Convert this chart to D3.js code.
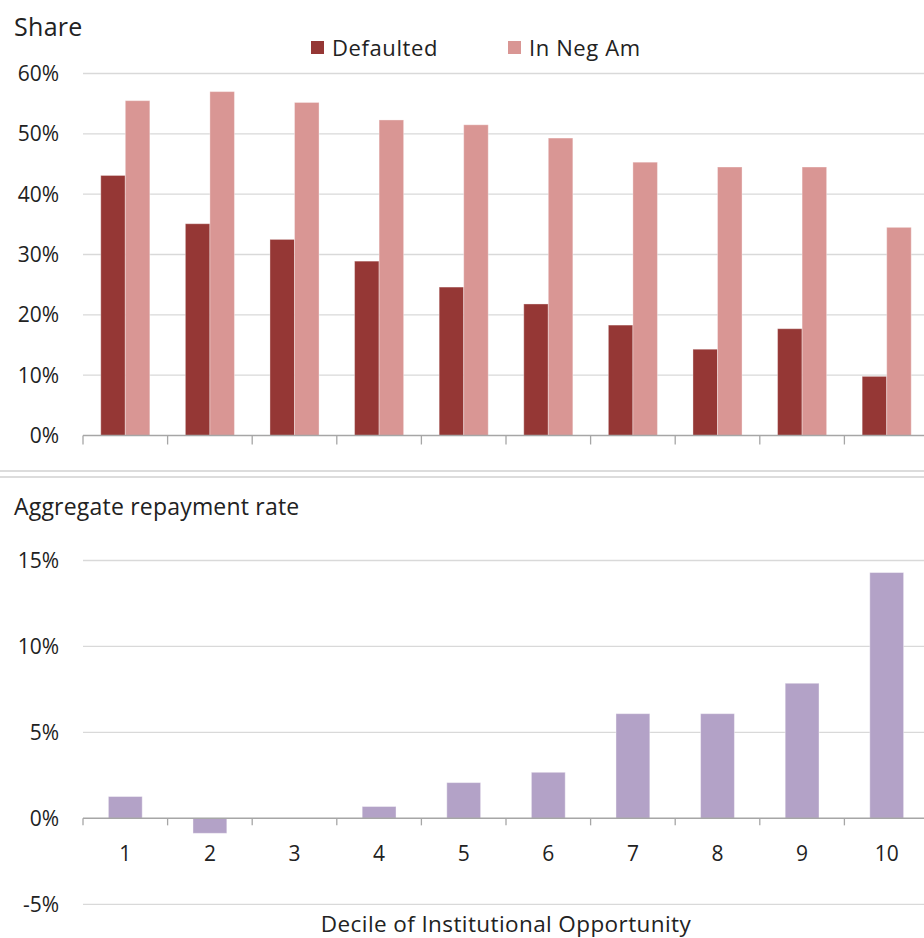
<!DOCTYPE html>
<html>
<head>
<meta charset="utf-8">
<script src="https://cdn.jsdelivr.net/npm/d3@7"></script>
<style>
body { margin: 0; background: #fff; }
text { font-family: "Open Sans", sans-serif; fill: #222; }
</style>
</head>
<body>
<script>
// deciles of institutional opportunity
const deciles = [1, 2, 3, 4, 5, 6, 7, 8, 9, 10]
const seriesNames = ["Defaulted", "In Neg Am"]
const defaulted = [0.431, 0.351, 0.325, 0.289, 0.246, 0.218, 0.183, 0.143, 0.177, 0.098]
const negAm = [0.555, 0.570, 0.552, 0.523, 0.515, 0.493, 0.453, 0.445, 0.445, 0.345]
const repayment = [0.0127, -0.0087, 0, 0.0069, 0.0208, 0.0268, 0.0609, 0.0609, 0.0786, 0.143]
const shareTicks = [0, 0.1, 0.2, 0.3, 0.4, 0.5, 0.6]
const repayTicks = [-0.05, 0, 0.05, 0.10, 0.15]

const colors = { "Defaulted": "#953735", "In Neg Am": "#d99694" }
const purple = "#b3a2c7"

const w = 924, h = 938
const left = 83, right = 929

// plain hyphen for negatives, like the original
const pct = d => d3.format(".0%")(d).replace("\u2212", "-")

const svg = d3.select("body").append("svg")
  .attr("width", w)
  .attr("height", h)

// ---------- top panel: share ----------
const x0 = d3.scaleBand()
  .domain(deciles)
  .range([left, right])
  .paddingInner(0.42)
  .paddingOuter(0.21)

const x1 = d3.scaleBand()
  .domain(seriesNames)
  .range([0, x0.bandwidth()])

const y1 = d3.scaleLinear()
  .domain([0, 0.6])
  .range([435.5, 73.5])

const sharePanel = svg.append("g")

sharePanel.append("g")
  .selectAll("line")
  .data(shareTicks.filter(d => d > 0))
  .enter()
  .append("line")
  .attr("x1", left).attr("x2", w)
  .attr("y1", d => y1(d)).attr("y2", d => y1(d))
  .attr("stroke", "#d9d9d9")
  .attr("stroke-width", 1.3)

sharePanel.append("g")
  .selectAll("text")
  .data(shareTicks)
  .enter()
  .append("text")
  .attr("x", 59)
  .attr("y", d => y1(d))
  .attr("dy", "0.35em")
  .attr("text-anchor", "end")
  .style("font-size", "21px")
  .text(pct)

const rows = deciles.map((d, i) => ({ decile: d, "Defaulted": defaulted[i], "In Neg Am": negAm[i] }))

sharePanel.append("g")
  .selectAll("g")
  .data(rows)
  .enter()
  .append("g")
  .attr("transform", d => "translate(" + x0(d.decile) + ",0)")
  .selectAll("rect")
  .data(d => seriesNames.map(k => ({ key: k, value: d[k] })))
  .enter()
  .append("rect")
  .attr("x", d => x1(d.key))
  .attr("y", d => y1(d.value))
  .attr("width", x1.bandwidth())
  .attr("height", d => y1(0) - y1(d.value))
  .attr("fill", d => colors[d.key])
  .attr("stroke", "rgba(255,255,255,0.35)")
  .attr("stroke-width", 1)

// axis line and ticks between categories
const bounds = d3.range(deciles.length + 1).map(i => left + i * x0.step())
sharePanel.append("line")
  .attr("x1", left).attr("x2", w)
  .attr("y1", y1(0)).attr("y2", y1(0))
  .attr("stroke", "#a6a6a6").attr("stroke-width", 1.5)
sharePanel.append("g")
  .selectAll("line")
  .data(bounds)
  .enter()
  .append("line")
  .attr("x1", d => d).attr("x2", d => d)
  .attr("y1", y1(0)).attr("y2", y1(0) + 9)
  .attr("stroke", "#a6a6a6").attr("stroke-width", 1.3)

sharePanel.append("text")
  .attr("x", 14).attr("y", 36)
  .style("font-size", "25px")
  .style("letter-spacing", "0.3px")
  .text("Share")

// legend
const legendX = [311, 508]
const legend = sharePanel.append("g")
  .selectAll("g")
  .data(seriesNames)
  .enter()
  .append("g")
  .attr("transform", (d, i) => "translate(" + legendX[i] + ",41)")
legend.append("rect")
  .attr("width", 13).attr("height", 13)
  .attr("fill", d => colors[d])
legend.append("text")
  .attr("x", 21).attr("y", 14.5)
  .style("font-size", "22px")
  .style("letter-spacing", "0.6px")
  .text(d => d)

// separators between the two charts
svg.append("line")
  .attr("x1", 0).attr("x2", w).attr("y1", 471).attr("y2", 471)
  .attr("stroke", "#d0d0d0").attr("stroke-width", 1.3)
svg.append("line")
  .attr("x1", 0).attr("x2", w).attr("y1", 477).attr("y2", 477)
  .attr("stroke", "#d0d0d0").attr("stroke-width", 1.3)

// ---------- bottom panel: repayment rate ----------
const xb = d3.scaleBand()
  .domain(deciles)
  .range([left, right])
  .paddingInner(0.6)
  .paddingOuter(0.3)

const y2 = d3.scaleLinear()
  .domain([-0.05, 0.15])
  .range([904.3, 560.5])

const repayPanel = svg.append("g")

repayPanel.append("g")
  .selectAll("line")
  .data(repayTicks.filter(d => d !== 0))
  .enter()
  .append("line")
  .attr("x1", left).attr("x2", w)
  .attr("y1", d => y2(d)).attr("y2", d => y2(d))
  .attr("stroke", "#d9d9d9")
  .attr("stroke-width", 1.3)

repayPanel.append("g")
  .selectAll("text")
  .data(repayTicks)
  .enter()
  .append("text")
  .attr("x", 59)
  .attr("y", d => y2(d))
  .attr("dy", "0.35em")
  .attr("text-anchor", "end")
  .style("font-size", "21px")
  .text(pct)

repayPanel.append("g")
  .selectAll("rect")
  .data(deciles.map((d, i) => ({ decile: d, value: repayment[i] })).filter(d => d.value !== 0))
  .enter()
  .append("rect")
  .attr("x", d => xb(d.decile))
  .attr("y", d => y2(Math.max(0, d.value)))
  .attr("width", xb.bandwidth())
  .attr("height", d => Math.abs(y2(d.value) - y2(0)))
  .attr("fill", purple)
  .attr("stroke", "rgba(255,255,255,0.4)")
  .attr("stroke-width", 1)

repayPanel.append("line")
  .attr("x1", left).attr("x2", w)
  .attr("y1", y2(0)).attr("y2", y2(0))
  .attr("stroke", "#a6a6a6").attr("stroke-width", 1.5)
repayPanel.append("g")
  .selectAll("line")
  .data(bounds)
  .enter()
  .append("line")
  .attr("x1", d => d).attr("x2", d => d)
  .attr("y1", y2(0)).attr("y2", y2(0) + 7)
  .attr("stroke", "#a6a6a6").attr("stroke-width", 1.3)

repayPanel.append("g")
  .selectAll("text")
  .data(deciles)
  .enter()
  .append("text")
  .attr("x", d => xb(d) + xb.bandwidth() / 2)
  .attr("y", 861)
  .attr("text-anchor", "middle")
  .style("font-size", "21px")
  .text(d => d)

repayPanel.append("text")
  .attr("x", 14).attr("y", 515)
  .style("font-size", "23px")
  .style("letter-spacing", "0.2px")
  .text("Aggregate repayment rate")

repayPanel.append("text")
  .attr("x", 506).attr("y", 932)
  .attr("text-anchor", "middle")
  .style("font-size", "22.5px")
  .style("letter-spacing", "0.4px")
  .text("Decile of Institutional Opportunity")
</script>
</body>
</html>
